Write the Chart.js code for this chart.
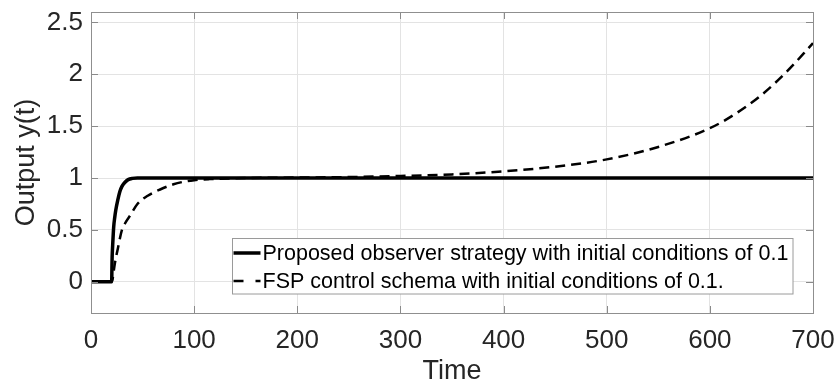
<!DOCTYPE html>
<html>
<head>
<meta charset="utf-8">
<script src="https://cdn.jsdelivr.net/npm/chart.js@4.4.0/dist/chart.umd.min.js"></script>
<style>
  html, body { margin: 0; padding: 0; background: #fff; }
  #wrap { width: 836px; height: 389px; position: relative; }
</style>
</head>
<body>
<div id="wrap"><canvas id="outputChart"></canvas></div>
<script>
// valori
const xTicks = [0, 100, 200, 300, 400, 500, 600, 700];
const yTicks = [0, 0.5, 1, 1.5, 2, 2.5];

const tObserver = [0, 20, 20.5, 21, 22, 23, 24, 26, 28, 30, 33, 36, 40, 45, 700];
const yObserver = [0, 0, 0.24, 0.35, 0.53, 0.62, 0.69, 0.79, 0.87, 0.92, 0.96, 0.985, 0.997, 1, 1];

const tFsp = [0, 20, 21, 23, 26, 30, 34, 38, 45, 55, 67, 80, 90, 100, 115, 150, 200, 250, 300, 350, 400, 450, 500, 550, 600, 625, 650, 675, 700];
const yFsp = [0, 0, 0.03, 0.17, 0.32, 0.5, 0.58, 0.64, 0.75, 0.83, 0.89, 0.94, 0.965, 0.98, 0.99, 1.0, 1.005, 1.01, 1.02, 1.035, 1.065, 1.11, 1.18, 1.30, 1.48, 1.62, 1.80, 2.03, 2.30];

const labelObserver = "Proposed observer strategy with initial conditions of 0.1";
const labelFsp = "FSP control schema with initial conditions of 0.1.";

const fontFamily = "'Liberation Sans', Arial, Helvetica, sans-serif";
const textColor = "#262626";

function toPoints(xs, ys) {
    return xs.map((x, i) => ({ x: x, y: ys[i] }));
}

// cadru + legenda in stil MATLAB
const matlabBox = {
    id: "matlabBox",
    afterDraw(chart) {
        const ctx = chart.ctx;
        const a = chart.chartArea;
        const xs = chart.scales.x;
        const ys = chart.scales.y;
        ctx.save();

        // tick-uri interioare
        ctx.strokeStyle = "#8a8a8a";
        ctx.lineWidth = 1;
        ctx.beginPath();
        xTicks.forEach(v => {
            const px = Math.round(xs.getPixelForValue(v)) + 0.5;
            ctx.moveTo(px, a.bottom); ctx.lineTo(px, a.bottom - 7);
            ctx.moveTo(px, a.top); ctx.lineTo(px, a.top + 7);
        });
        yTicks.forEach(v => {
            const py = Math.round(ys.getPixelForValue(v)) + 0.5;
            ctx.moveTo(a.left, py); ctx.lineTo(a.left + 7, py);
            ctx.moveTo(a.right, py); ctx.lineTo(a.right - 7, py);
        });
        ctx.stroke();

        ctx.strokeStyle = "#8f8f8f";
        ctx.strokeRect(Math.round(a.left) + 0.5, Math.round(a.top) + 0.5,
            Math.round(a.right - a.left), Math.round(a.bottom - a.top));

        // legenda
        const boxL = 232.5, boxT = 238.5, boxR = a.right - 20, boxB = a.bottom - 19;
        ctx.fillStyle = "#fff";
        ctx.fillRect(boxL, boxT, boxR - boxL, boxB - boxT);
        ctx.strokeStyle = "#9a9a9a";
        ctx.lineWidth = 1;
        ctx.strokeRect(boxL, boxT, boxR - boxL, boxB - boxT);

        const rows = [
            { ds: chart.data.datasets[0], y: 253, dash: [] },
            { ds: chart.data.datasets[1], y: 281, dash: [10, 12] }
        ];
        ctx.font = "21.5px " + fontFamily;
        ctx.textBaseline = "middle";
        ctx.textAlign = "left";
        rows.forEach(r => {
            ctx.beginPath();
            ctx.setLineDash(r.dash);
            ctx.strokeStyle = r.ds.borderColor;
            ctx.lineWidth = r.ds.borderWidth;
            ctx.moveTo(boxL + 1, r.y);
            ctx.lineTo(boxL + 28, r.y);
            ctx.stroke();
            ctx.setLineDash([]);
            ctx.fillStyle = "#000";
            ctx.fillText(r.ds.label, boxL + 30, r.y + 1);
        });
        ctx.restore();
    }
};

const ctxOut = document.getElementById("outputChart").getContext("2d");

const outputChart = new Chart(ctxOut, {
    type: "line",
    data: {
        datasets: [
            {
                label: labelObserver,
                data: toPoints(tObserver, yObserver),
                borderColor: "#000",
                borderWidth: 3.5,
                pointRadius: 0,
                cubicInterpolationMode: "monotone",
                fill: false
            },
            {
                label: labelFsp,
                data: toPoints(tFsp, yFsp),
                borderColor: "#000",
                borderWidth: 2.5,
                borderDash: [10, 6],
                pointRadius: 0,
                cubicInterpolationMode: "monotone",
                fill: false
            }
        ]
    },
    options: {
        animation: false,
        responsive: true,
        maintainAspectRatio: false,
        layout: { padding: { left: 0, right: 23, top: 12, bottom: 0 } },
        plugins: {
            legend: { display: false },
            tooltip: { enabled: false }
        },
        scales: {
            x: {
                type: "linear",
                min: 0,
                max: 700,
                afterBuildTicks: s => { s.ticks = xTicks.map(v => ({ value: v })); },
                afterFit: s => { s.height = 76; s.paddingLeft = 0; s.paddingRight = 0; },
                grid: { color: "#e3e3e3", drawTicks: false },
                border: { display: false },
                ticks: {
                    padding: 12,
                    color: textColor,
                    font: { family: fontFamily, size: 26 },
                    maxRotation: 0
                },
                title: {
                    display: true,
                    text: "Time",
                    color: textColor,
                    font: { family: fontFamily, size: 27 },
                    padding: { top: 0, bottom: 1 }
                }
            },
            y: {
                min: -0.3,
                max: 2.6,
                afterBuildTicks: s => { s.ticks = yTicks.map(v => ({ value: v })); },
                afterFit: s => { s.width = 91; s.paddingTop = 0; s.paddingBottom = 0; },
                grid: { color: "#e3e3e3", drawTicks: false },
                border: { display: false },
                ticks: {
                    padding: 8,
                    color: textColor,
                    font: { family: fontFamily, size: 26 },
                    callback: v => String(v)
                },
                title: {
                    display: true,
                    text: "Output y(t)",
                    color: textColor,
                    font: { family: fontFamily, size: 27 },
                    padding: { top: 10, bottom: 0 }
                }
            }
        }
    },
    plugins: [matlabBox]
});
</script>
</body>
</html>
